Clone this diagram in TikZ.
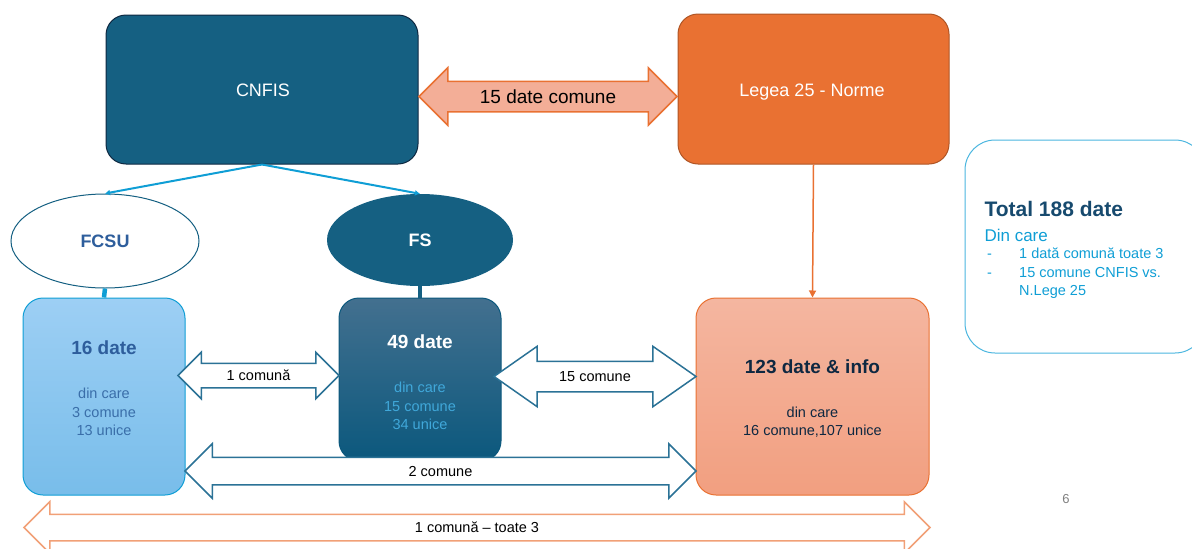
\documentclass[tikz,border=0pt]{standalone}
\usepackage{fontspec}
\setmainfont{Liberation Sans}
\usepackage{xcolor}
\usetikzlibrary{positioning,shapes.geometric,shapes.arrows,arrows.meta}
\definecolor{cnfisblue}{HTML}{156082}
\definecolor{legeaorange}{HTML}{E97132}
\definecolor{skyblue}{HTML}{0F9ED5}
\definecolor{navy}{HTML}{0E2841}
\definecolor{salmon}{HTML}{F3AE97}
\definecolor{fcsutext}{HTML}{2E5E9C}
\definecolor{fcsuline}{HTML}{3A6EA9}
\definecolor{fsline}{HTML}{40A8DA}
\definecolor{totaltext}{HTML}{174A6E}
\definecolor{arrowblue}{HTML}{2B7296}
\definecolor{arroworange}{HTML}{F1A077}
\definecolor{fcsutop}{HTML}{9DCFF4}
\definecolor{fcsubottom}{HTML}{78BDEA}
\definecolor{fstop}{HTML}{43708F}
\definecolor{fsbottom}{HTML}{0B587D}
\definecolor{infotop}{HTML}{F4B6A0}
\definecolor{infobottom}{HTML}{F29F80}
\newcommand{\setsize}[1]{\fontsize{#1}{1.27\dimexpr#1pt\relax}\selectfont}

\begin{document}
\begin{tikzpicture}[x=1pt,y=-1pt,
    box/.style={draw, rounded corners=20pt, line width=1pt},
    blockarrow/.style={double arrow, fill=white, line width=1.5pt, inner xsep=2pt, text height=10.5pt, text depth=0pt, font=\setsize{14.5}}]
        \useasboundingbox (0,0) rectangle (1192,549);
        % Draw top boxes
        \node[box, draw=navy, fill=cnfisblue, minimum width=312pt, minimum height=149pt] (cnfis) at (262,89.5) {};
        \node[box, draw=legeaorange!75!black, fill=legeaorange, minimum width=271pt, minimum height=150pt] (legea) at (813.5,89) {};
        \node[text=white, font=\setsize{18}] (cnfistext) at (263,90) {CNFIS};
        \node[text=white, font=\setsize{18}] (legeatext) at (812,92) {Legea 25 - Norme};
        \node[blockarrow, draw=legeaorange, fill=salmon, minimum height=258pt, minimum width=56pt, double arrow head extend=13.5pt, text height=13.6pt, inner ysep=7.7pt, font=\setsize{19}] (common) at (548,96.5) {15 date comune};
        % Draw ellipses
        \node[ellipse, draw=cnfisblue, line width=1pt, fill=white, minimum width=188pt, minimum height=94pt, text=fcsutext, font=\bfseries\setsize{18}] (fcsu) at (105,241) {FCSU};
        \node[ellipse, fill=cnfisblue, minimum width=186pt, minimum height=92pt, text=white, font=\bfseries\setsize{18}] (fs) at (420,240) {FS};
        \draw[skyblue, line width=2pt, -{Latex[length=5pt,width=6pt]}] (cnfis.south) -- (fcsu.north);
        \draw[skyblue, line width=2pt, -{Latex[length=5pt,width=6pt]}] (cnfis.south) -- (fs.north);
        % Draw data boxes
        \node[box, draw=skyblue, top color=fcsutop, bottom color=fcsubottom, minimum width=162pt, minimum height=197pt] (fcsubox) at (104,396.5) {};
        \node[box, draw=fsbottom, top color=fstop, bottom color=fsbottom, minimum width=162pt, minimum height=163pt] (fsbox) at (420,379.5) {};
        \node[box, draw=legeaorange, top color=infotop, bottom color=infobottom, minimum width=233pt, minimum height=197pt] (infobox) at (812.5,396.5) {};
        \draw[skyblue, line width=4.5pt] (fcsu.south) -- (fcsubox.north);
        \draw[cnfisblue, line width=4pt] (fs.south) -- (fsbox.north);
        \draw[legeaorange, line width=1.5pt, -{Triangle[length=7pt,width=7pt]}] (legea.south) -- (infobox.north);
        % Box texts
        \node[text=fcsutext, font=\bfseries\setsize{19}] (fcsutitle) at (104,348) {16 date};
        \node[text=fcsuline, font=\setsize{14.5}, align=center] (fcsulines) at (104,412) {din care\\3 comune\\13 unice};
        \node[text=white, font=\bfseries\setsize{19}] (fstitle) at (420,342) {49 date};
        \node[text=fsline, font=\setsize{14.5}, align=center] (fslines) at (420,406) {din care\\15 comune\\34 unice};
        \node[text=navy, font=\bfseries\setsize{19}] (infotitle) at (812.5,367) {123 date \& info};
        \node[text=navy, font=\setsize{14.5}, align=center] (infolines) at (812.5,422) {din care\\16 comune,107 unice};
        % Draw block arrows between boxes
        \node[blockarrow, draw=arrowblue, minimum height=161pt, minimum width=45pt, double arrow head extend=11pt, inner ysep=6.25pt] (fcsufs) at (258.5,375.5) {1 comună};
        \node[blockarrow, draw=arrowblue, minimum height=202pt, minimum width=59pt, double arrow head extend=15pt, inner ysep=9.25pt, double arrow tip angle=70] (fsinfo) at (595,376.5) {15 comune};
        \node[blockarrow, draw=arrowblue, minimum height=511pt, minimum width=53pt, double arrow head extend=13.5pt, inner ysep=7.75pt] (fcsuinfo) at (440.5,471) {2 comune};
        \node[blockarrow, draw=arroworange, minimum height=906pt, minimum width=50pt, double arrow head extend=12.5pt, inner ysep=7.25pt] (allthree) at (477,527.5) {1 comună -- toate 3};
        % Total box
        \node[draw=skyblue!75, line width=1pt, rounded corners=30pt, minimum width=240pt, minimum height=213pt] (total) at (1085,246.5) {};
        \node[anchor=west, text=totaltext, font=\bfseries\setsize{21}] (totaltitle) at (981,209) {Total 188 date};
        \node[anchor=west, text=skyblue, font=\setsize{17}] (totalsub) at (981,235) {Din care};
        \node[anchor=north west, text=skyblue, font=\setsize{14.5}, align=left, inner sep=0pt] (totallist) at (987,248) {\makebox[32pt][l]{-}1 dată comună toate 3\\ \makebox[32pt][l]{-}15 comune CNFIS vs.\\ \makebox[32pt][l]{}N.Lege 25};
        \node[text=gray, font=\setsize{13}] (page) at (1066,499) {6};
\end{tikzpicture}
\end{document}
